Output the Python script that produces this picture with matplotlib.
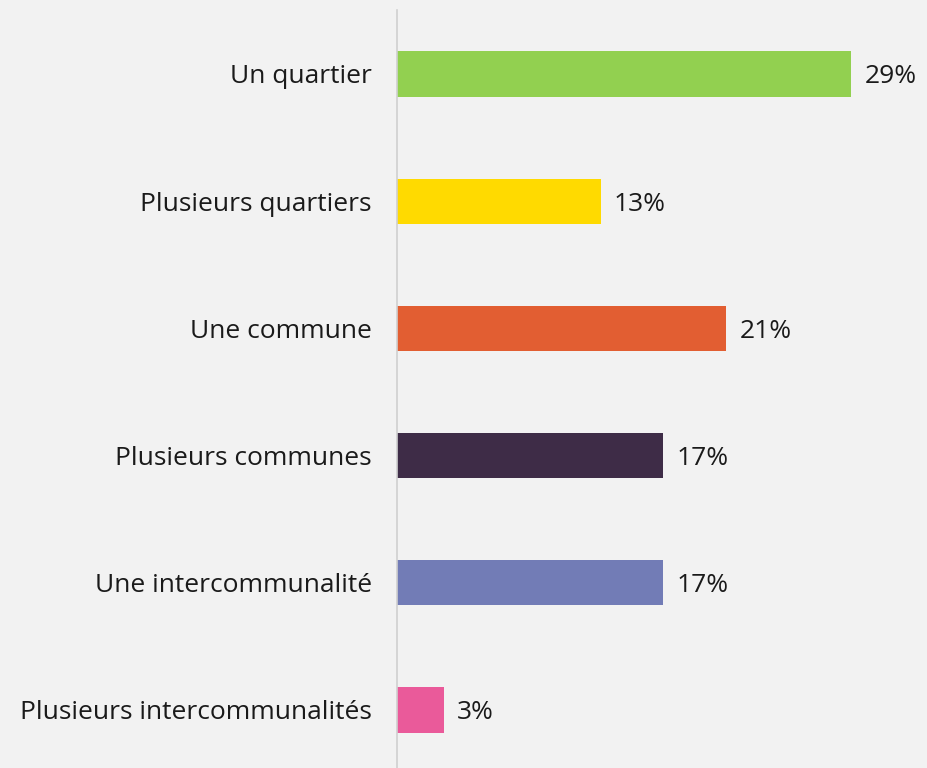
import matplotlib.pyplot as plt

# Données
categories = [
    "Un quartier",
    "Plusieurs quartiers",
    "Une commune",
    "Plusieurs communes",
    "Une intercommunalité",
    "Plusieurs intercommunalités",
]
values = [29, 13, 21, 17, 17, 3]
colors = ["#92d050", "#ffda00", "#e25e32", "#3e2c47", "#727cb6", "#ea5a9a"]

BG = "#f2f2f2"
TEXT = "#1a1a1a"

plt.rcParams["font.family"] = ["Open Sans", "DejaVu Sans"]

fig = plt.figure(figsize=(9.28, 7.68), dpi=100, facecolor=BG)
ax = fig.add_axes([397 / 928, 0.0, 1 - 397 / 928, 758 / 768])
ax.set_facecolor(BG)

y = range(len(categories))
ax.barh(y, values, height=0.355, color=colors)

# étiquettes de valeurs
for i, v in enumerate(values):
    ax.text(v + 0.85, i, f"{v}%", va="center_baseline", ha="left", fontsize=19, color=TEXT)

ax.set_yticks(list(y))
ax.set_yticklabels(categories, fontsize=19, color=TEXT)
ax.tick_params(axis="y", length=0, pad=18)
ax.set_xticks([])

ax.set_xlim(0, 33.9)
ax.set_ylim(5.456, -0.503)

for side in ["top", "right", "bottom"]:
    ax.spines[side].set_visible(False)
ax.spines["left"].set_color("#d0d0d0")
ax.spines["left"].set_linewidth(1.2)

plt.savefig("out.png", dpi=100, facecolor=BG)
